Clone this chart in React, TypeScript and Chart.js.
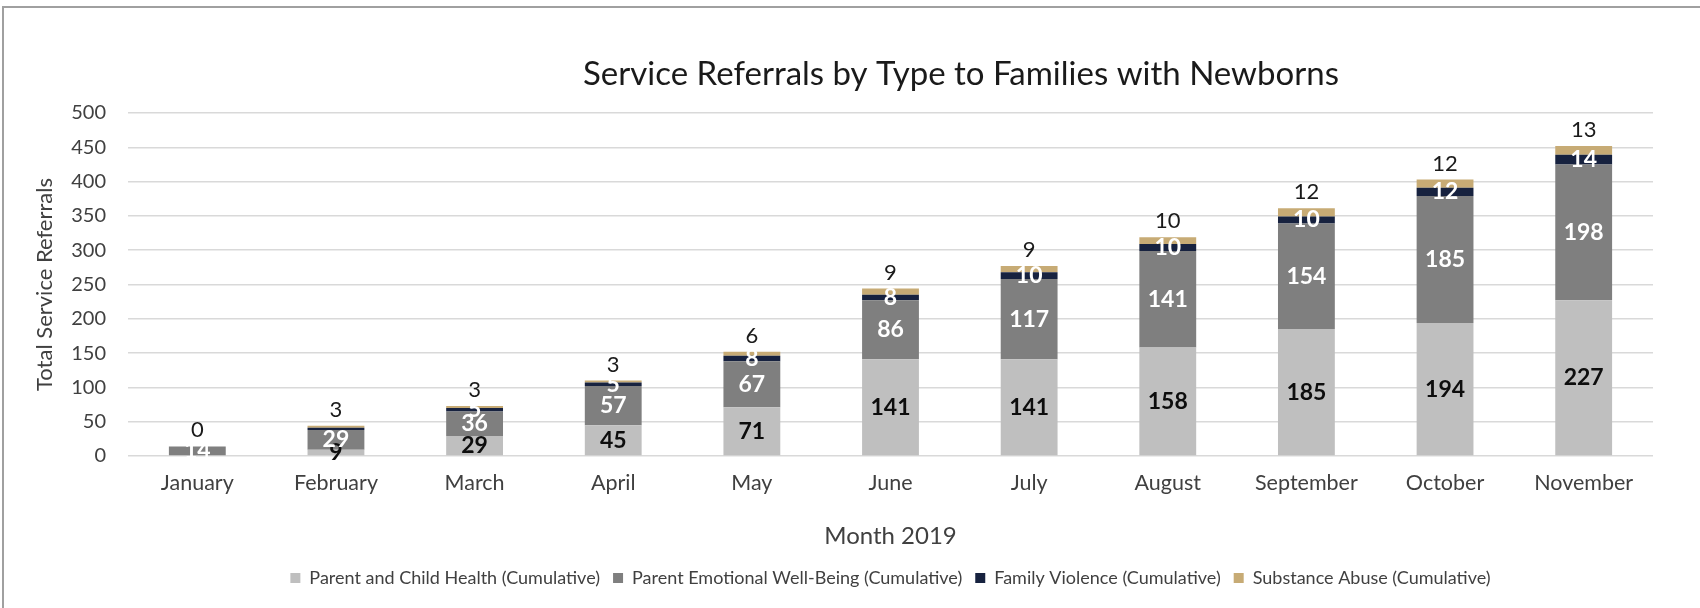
import React, { useEffect, useRef } from "react";
import { Chart, registerables } from "chart.js";

Chart.register(...registerables);

const months = ["January", "February", "March", "April", "May", "June", "July", "August", "September", "October", "November"];
const parentChildHealth = [null, 9, 29, 45, 71, 141, 141, 158, 185, 194, 227];
const emotionalWellBeing = [14, 29, 36, 57, 67, 86, 117, 141, 154, 185, 198];
const familyViolence = [null, 3, 5, 5, 8, 8, 10, 10, 10, 12, 14];
const substanceAbuse = [0, 3, 3, 3, 6, 9, 9, 10, 12, 12, 13];

const seriesNames = [
  "Parent and Child Health (Cumulative)",
  "Parent Emotional Well-Being (Cumulative)",
  "Family Violence (Cumulative)",
  "Substance Abuse (Cumulative)",
];
const seriesColors = ["#BFBFBF", "#7F7F7F", "#17223F", "#C7AB75"];
const titleText = "Service Referrals by Type to Families with Newborns";
const FONT = "Lato, 'Open Sans', sans-serif";

const titlePlugin = {
  id: "centerTitle",
  afterDraw(chart: any) {
    const ctx = chart.ctx;
    ctx.save();
    ctx.font = `33px ${FONT}`;
    ctx.fillStyle = "#1a1a1a";
    ctx.textAlign = "center";
    ctx.textBaseline = "middle";
    ctx.fillText(titleText, chart.width / 2, 66);
    ctx.restore();
  },
};

const segLabelPlugin = {
  id: "segLabels",
  afterDatasetsDraw(chart: any) {
    const ctx = chart.ctx;
    ctx.save();
    ctx.textAlign = "center";
    ctx.textBaseline = "middle";
    chart.data.datasets.forEach((ds: any, i: number) => {
      const meta = chart.getDatasetMeta(i);
      meta.data.forEach((el: any, j: number) => {
        const v = ds.data[j];
        if (v === null || v === undefined) return;
        const p = el.getProps(["x", "y", "base"], true);
        if (i === 3) {
          ctx.font = `22px ${FONT}`;
          ctx.fillStyle = "#1a1a1a";
          ctx.fillText(String(v), p.x, p.y - 16);
        } else {
          if (i === 2 && v < 4) return;
          ctx.font = `bold 23px ${FONT}`;
          ctx.fillStyle = i === 0 ? "#0d0d0d" : "#ffffff";
          ctx.fillText(String(v), p.x, (p.y + p.base) / 2);
        }
      });
    });
    ctx.restore();
  },
};

export default function App() {
  const ref = useRef<HTMLCanvasElement | null>(null);

  useEffect(() => {
    if (!ref.current) return;
    const dataArrays = [parentChildHealth, emotionalWellBeing, familyViolence, substanceAbuse];
    const chart = new Chart(ref.current, {
      type: "bar",
      data: {
        labels: months,
        datasets: dataArrays.map((d, i) => ({
          label: seriesNames[i],
          data: d as any,
          backgroundColor: seriesColors[i],
          borderWidth: 0,
          categoryPercentage: 1,
          barPercentage: 0.41,
        })),
      },
      options: {
        animation: false,
        responsive: false,
        devicePixelRatio: 1,
        layout: { padding: { top: 105, left: 0, right: 265, bottom: 31 } },
        plugins: {
          title: { display: false },
          tooltip: { enabled: false },
          legend: {
            position: "bottom",
            fullSize: false,
            labels: {
              boxWidth: 10,
              boxHeight: 10,
              padding: 13,
              color: "#404040",
              font: { family: FONT, size: 18 },
            },
          },
        },
        scales: {
          x: {
            stacked: true,
            grid: { display: false, drawTicks: false },
            border: { display: false },
            ticks: { color: "#404040", padding: 14, font: { family: FONT, size: 21.5 } },
            title: {
              display: true,
              text: "Month 2019",
              color: "#404040",
              font: { family: FONT, size: 24 },
              padding: { top: 4, bottom: 5 },
            },
            afterFit: (s: any) => {
              s.height = 100;
            },
          },
          y: {
            stacked: true,
            min: 0,
            max: 500,
            grid: { color: "#D9D9D9", lineWidth: 1.5, drawTicks: false },
            border: { display: false },
            ticks: { stepSize: 50, color: "#404040", padding: 22, font: { family: FONT, size: 20 } },
            title: {
              display: true,
              text: "Total Service Referrals",
              color: "#404040",
              font: { family: FONT, size: 22 },
              padding: { top: 28, bottom: 4 },
            },
            afterFit: (s: any) => {
              s.width = 124;
            },
          },
        },
      },
      plugins: [segLabelPlugin, titlePlugin],
    });
    return () => chart.destroy();
  }, []);

  return (
    <div
      style={{
        position: "fixed",
        left: 0,
        top: 0,
        width: 1700,
        height: 608,
        overflow: "hidden",
        background: "#ffffff",
      }}
    >
      <div
        style={{
          position: "absolute",
          left: 2,
          top: 6,
          width: 1918,
          height: 640,
          border: "2px solid #A0A0A0",
          boxSizing: "border-box",
          background: "#ffffff",
        }}
      >
        <canvas ref={ref} width={1914} height={620} style={{ display: "block" }} />
      </div>
    </div>
  );
}
